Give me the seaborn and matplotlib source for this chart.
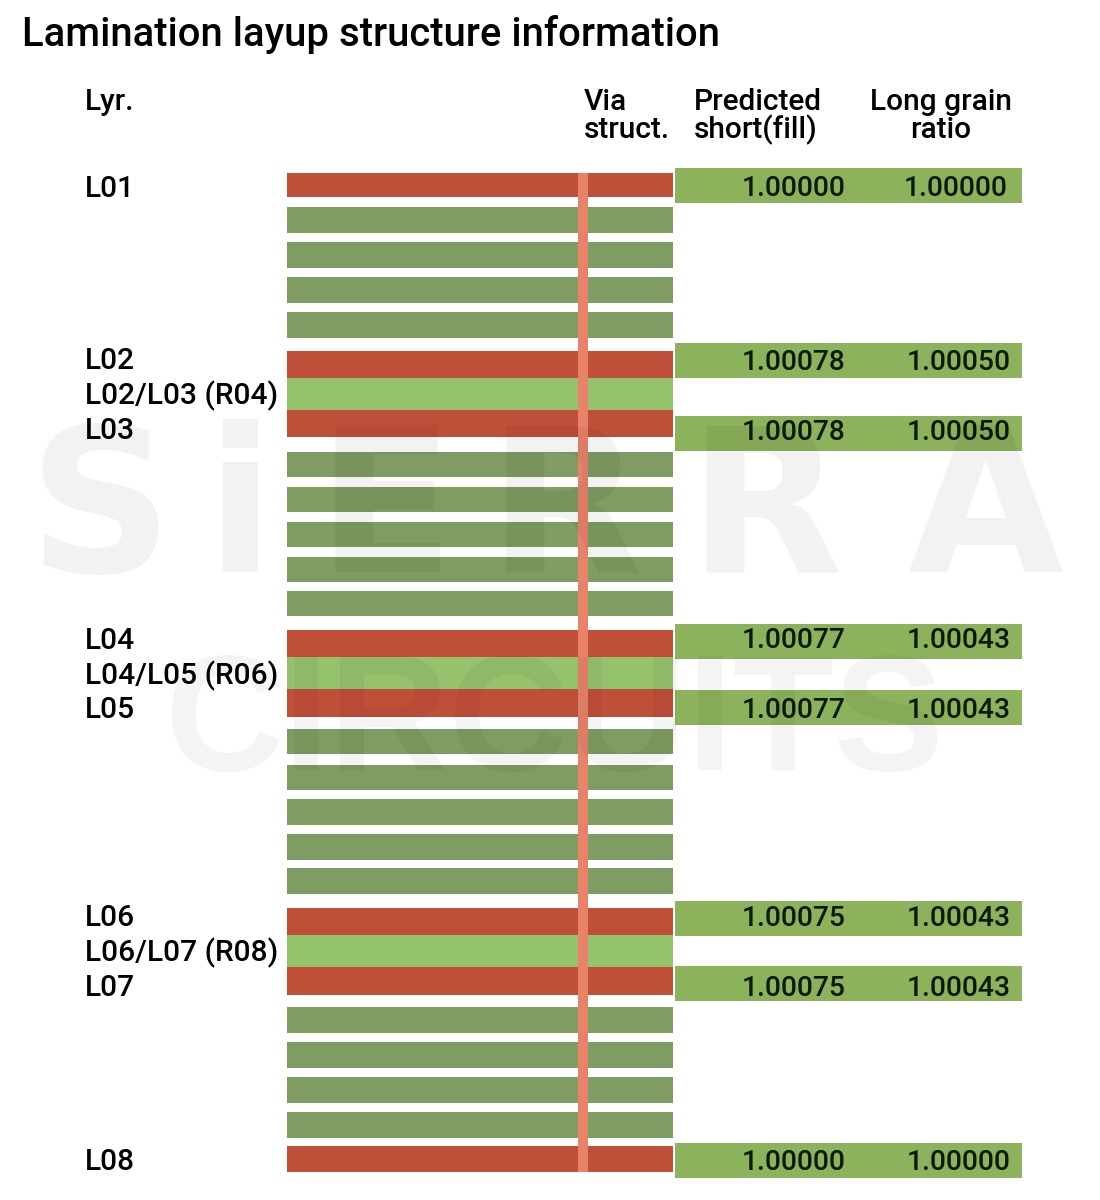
import pandas as pd
import seaborn as sns
import matplotlib.pyplot as plt

sns.set_theme(style="white")
plt.rcParams['font.family'] = ['Roboto', 'DejaVu Sans']
plt.rcParams['text.color'] = 'black'

# Stack rows, top to bottom (heights and gaps, in px)
layer_kind = ['cu', 'core', 'core', 'core', 'core', 'cu', 'resin', 'cu',
              'core', 'core', 'core', 'core', 'core', 'cu', 'resin', 'cu',
              'core', 'core', 'core', 'core', 'core', 'cu', 'resin', 'cu',
              'core', 'core', 'core', 'core', 'cu']
layer_thick = [24, 26, 26, 26, 26, 27, 32, 27,
               25, 25, 25, 25, 25, 27, 32, 28,
               25, 25, 26, 26, 26, 27, 32, 28,
               26, 26, 26, 26, 26]
layer_gap = [173, 10, 9, 9, 9, 13, 0, 0,
             15, 10, 10, 10, 9, 14, 0, 0,
             12, 11, 9, 9, 8, 14, 0, 0,
             12, 9, 9, 9, 8]

layer_names = ['L01', 'L02', 'L02/L03 (R04)', 'L03', 'L04', 'L04/L05 (R06)',
               'L05', 'L06', 'L06/L07 (R08)', 'L07', 'L08']
layer_name_y = [187, 359, 394, 429, 639, 674, 708, 916, 951, 986, 1160]

short_fill = ['1.00000', '1.00078', '1.00078', '1.00077', '1.00077',
              '1.00075', '1.00075', '1.00000']
long_grain = ['1.00000', '1.00050', '1.00050', '1.00043', '1.00043',
              '1.00043', '1.00043', '1.00000']
long_grain_right = [1008, 1011, 1011, 1011, 1011, 1011, 1011, 1011]
box_top = [168, 343, 416, 624, 690, 901, 966, 1143]
value_y = [186, 361, 431, 638, 708, 917, 987, 1160]
box_thick = 35

kind_colors = {'cu': '#C04F3A', 'core': '#7F9C62', 'resin': '#95C26D'}
box_color = '#8DB25C'
via_color = '#E8836A'

# watermark letters, spread out since the logo font is much wider than ours
mark_letters = ['S', 'i', 'E', 'R', 'R', 'A']
mark_x = [100, 240, 385, 565, 765, 985]


def draw_bars(ax, tops, thicks, left, length, colors):
    # seaborn draws the bars, then each one gets its own thickness and start
    n_before = len(ax.patches)
    df = pd.DataFrame({'row': [str(i) for i in range(len(tops))],
                       'length': [length] * len(tops)})
    sns.barplot(data=df, y='row', x='length', hue='row',
                palette=dict(zip(df['row'], colors)), dodge=False,
                legend=False, saturation=1, linewidth=0, ax=ax)
    for patch, top, thick in zip(ax.patches[n_before:], tops, thicks):
        patch.set_x(left)
        patch.set_y(top)
        patch.set_height(thick)


fig = plt.figure(figsize=(11, 12), dpi=100)
ax = fig.add_axes([0, 0, 1, 1])

# layer stack
tops = []
pos = 0
for gap, thick in zip(layer_gap, layer_thick):
    pos += gap
    tops.append(pos)
    pos += thick
draw_bars(ax, tops, layer_thick, 287, 386, [kind_colors[k] for k in layer_kind])

# via barrel through the whole stack
draw_bars(ax, [173], [tops[-1] + layer_thick[-1] - 173], 578, 10, [via_color])

# result boxes on the right
draw_bars(ax, box_top, [box_thick] * len(box_top), 675, 347, [box_color] * len(box_top))

ax.set_xlim(0, 1100)
ax.set_ylim(1200, 0)
ax.axis('off')

ax.text(22, 34, 'Lamination layup structure information', fontsize=28.8,
        fontweight=500, va='center', ha='left')

label_size = 21.5
ax.text(85, 102, 'Lyr.', fontsize=label_size, fontweight=500, va='center')
ax.text(584, 102, 'Via', fontsize=label_size, fontweight=500, va='center')
ax.text(584, 130, 'struct.', fontsize=label_size, fontweight=500, va='center')
ax.text(694, 102, 'Predicted', fontsize=label_size, fontweight=500, va='center')
ax.text(694, 130, 'short(fill)', fontsize=label_size, fontweight=500, va='center')
ax.text(941, 102, 'Long grain', fontsize=label_size, fontweight=500, va='center', ha='center')
ax.text(941, 130, 'ratio', fontsize=label_size, fontweight=500, va='center', ha='center')

for name, y in zip(layer_names, layer_name_y):
    ax.text(85, y + 2, name, fontsize=label_size, fontweight=500, va='center')

for y, a, b, right in zip(value_y, short_fill, long_grain, long_grain_right):
    ax.text(846, y + 2, a, fontsize=20.3, fontweight=500, va='center', ha='right', color='#0A1A05')
    ax.text(right, y + 2, b, fontsize=20.3, fontweight=500, va='center', ha='right', color='#0A1A05')

# watermark
for letter, x in zip(mark_letters, mark_x):
    ax.text(x, 572, letter, fontsize=145, fontweight='bold', family='DejaVu Sans',
            ha='center', va='baseline', color='black', alpha=0.05, zorder=5)
ax.text(554, 770, 'CIRCUITS', fontsize=119, fontweight='bold', family='Liberation Sans',
        ha='center', va='baseline', color='black', alpha=0.045, zorder=5)

fig.savefig('out.png', dpi=100, facecolor='white')
